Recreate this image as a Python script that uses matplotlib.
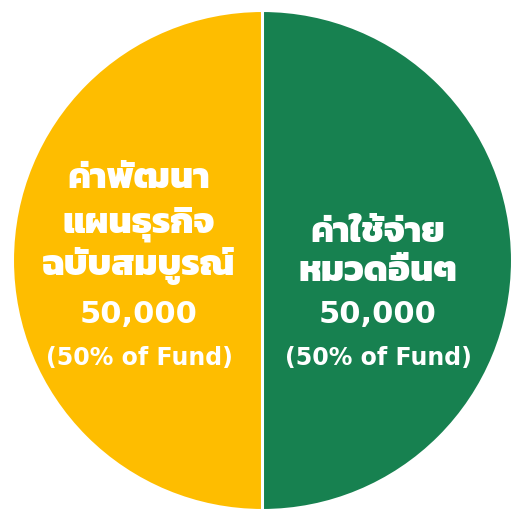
import matplotlib
matplotlib.use("Agg")
import matplotlib.pyplot as plt

# budget split
names = [["ค่าพัฒนา", "แผนธุรกิจ", "ฉบับสมบูรณ์"], ["ค่าใช้จ่าย", "หมวดอื่นๆ"]]
amounts = [50000, 50000]
shares = [50, 50]
colors = ["#FEBD00", "#178150"]

W = H = 514

fig = plt.figure(figsize=(W / 100, H / 100), dpi=100)
ax = fig.add_axes([0, 0, 1, 1])

ax.pie(amounts, colors=colors, startangle=90, counterclock=True,
       center=(262.5, H - 260.5), radius=250,
       wedgeprops=dict(edgecolor="white", linewidth=2.2))
ax.set_xlim(0, W)
ax.set_ylim(0, H)
ax.set_aspect("equal")
ax.axis("off")

# text layout (pixel rows of the baselines, measured from the top)
label_x = [139, 378]
thai_rows = [[188, 232, 275], [242, 281]]
amount_row = 323
share_row = 365

for i in range(2):
    for name, row in zip(names[i], thai_rows[i]):
        ax.text(label_x[i], H - row, name, color="white", ha="center", va="baseline",
                fontsize=26, family="Kanit", fontweight=800)
    ax.text(label_x[i], H - amount_row, "{:,}".format(amounts[i]), color="white",
            ha="center", va="baseline", fontsize=22, family="DejaVu Sans", fontweight="bold")
    ax.text(label_x[i], H - share_row, "({}% of Fund)".format(shares[i]), color="white",
            ha="center", va="baseline", fontsize=17, family="DejaVu Sans", fontweight="bold")

fig.savefig("out.png", dpi=100)
